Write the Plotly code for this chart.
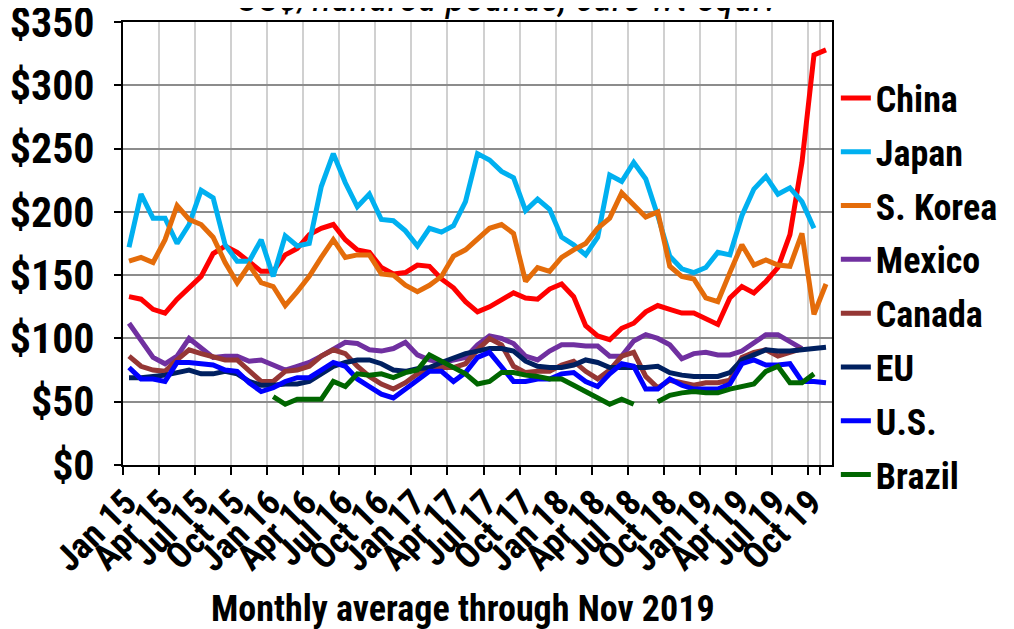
import plotly.graph_objects as go

months = ["Jan 15","Feb 15","Mar 15","Apr 15","May 15","Jun 15","Jul 15","Aug 15","Sep 15","Oct 15","Nov 15","Dec 15",
          "Jan 16","Feb 16","Mar 16","Apr 16","May 16","Jun 16","Jul 16","Aug 16","Sep 16","Oct 16","Nov 16","Dec 16",
          "Jan 17","Feb 17","Mar 17","Apr 17","May 17","Jun 17","Jul 17","Aug 17","Sep 17","Oct 17","Nov 17","Dec 17",
          "Jan 18","Feb 18","Mar 18","Apr 18","May 18","Jun 18","Jul 18","Aug 18","Sep 18","Oct 18","Nov 18","Dec 18",
          "Jan 19","Feb 19","Mar 19","Apr 19","May 19","Jun 19","Jul 19","Aug 19","Sep 19","Oct 19","Nov 19"]
tick_labels = ["Jan 15","Apr 15","Jul 15","Oct 15","Jan 16","Apr 16","Jul 16","Oct 16","Jan 17","Apr 17",
               "Jul 17","Oct 17","Jan 18","Apr 18","Jul 18","Oct 18","Jan 19","Apr 19","Jul 19","Oct 19"]

china = [133,131,123,120,131,140,149,167,173,168,160,153,
         153,166,171,182,187,190,178,170,168,156,151,152,
         158,157,147,140,129,121,125,130,136,132,131,139,
         143,133,110,102,99,108,112,121,126,123,120,120,
         116,111,132,141,136,145,156,182,239,324,328]
japan = [172,214,195,195,175,190,217,211,174,161,161,178,
         149,181,173,175,220,246,223,204,214,194,193,185,
         173,187,184,189,208,246,241,232,227,201,210,202,
         180,174,166,180,229,224,239,226,197,165,155,152,
         156,168,166,197,218,228,214,219,208,187,None]
korea = [161,164,160,178,205,194,190,180,160,144,158,144,
         141,126,137,149,164,178,164,166,166,151,150,142,
         137,142,149,165,170,179,187,190,183,145,156,153,
         164,170,175,187,195,215,206,196,200,157,149,147,
         132,129,152,174,158,162,158,157,183,119,143]
mexico = [112,99,85,80,86,100,93,85,86,86,82,83,
          79,75,78,81,86,92,97,96,91,90,92,97,
          87,83,81,83,85,95,102,100,96,86,83,90,
          95,95,94,94,86,86,98,103,100,95,84,88,
          89,87,87,90,96,103,103,97,92,None,None]
canada = [86,78,75,74,83,91,88,86,83,83,74,66,
          66,74,75,78,86,91,88,78,70,64,60,65,
          72,75,77,77,80,91,100,95,78,73,74,74,
          79,82,74,68,75,86,89,70,61,67,65,63,
          65,65,67,85,89,91,86,89,92,None,None]
eu = [69,69,70,71,73,75,72,72,74,72,66,63,
      63,64,64,66,72,78,81,83,83,80,75,74,
      76,77,81,85,88,90,92,92,90,82,78,77,
      77,79,83,81,77,77,77,77,78,73,71,70,
      70,70,73,83,87,91,90,90,91,92,93]
us = [77,68,68,66,81,81,80,79,75,74,65,58,
      61,66,69,69,75,81,78,68,62,56,53,60,
      68,74,74,66,73,85,89,77,66,66,68,68,
      72,73,66,62,72,80,78,60,60,68,63,60,
      60,60,64,80,83,79,79,80,66,66,65]
brazil = [None,None,None,None,None,None,None,None,None,None,None,None,
          54,48,52,52,52,66,62,72,71,72,69,73,
          75,87,82,77,72,64,66,73,73,71,70,68,
          68,63,58,52,48,52,48,None,50,55,57,58,
          57,57,60,62,64,74,78,65,65,72,None]

series = [("China", china, "#FF0000"), ("Japan", japan, "#00B0F0"), ("S. Korea", korea, "#E46C0A"),
          ("Mexico", mexico, "#7030A0"), ("Canada", canada, "#953735"), ("EU", eu, "#002060"),
          ("U.S.", us, "#0000FF"), ("Brazil", brazil, "#006600")]

FONT = "Roboto Condensed, Roboto, sans-serif"

fig = go.Figure()
for name, vals, col in series:
    fig.add_trace(go.Scatter(x=months, y=vals, name=name, mode="lines", legendgroup=name,
                             line=dict(color=col, width=5), connectgaps=False))

fig.update_layout(
    width=1006, height=621,
    margin=dict(l=115, r=181, t=14, b=164),
    paper_bgcolor="white", plot_bgcolor="white",
    font=dict(family=FONT, color="black"),
    showlegend=True,
    legend=dict(x=1.004, y=0.896, xanchor="left", yanchor="top",
                traceorder="grouped", tracegroupgap=4, maxheight=560,
                font=dict(size=36, family=FONT, weight="bold"),
                itemwidth=30, bgcolor="rgba(0,0,0,0)"),
    xaxis=dict(type="category", range=[-0.5, 58.5], tickmode="array", tickvals=tick_labels,
               ticktext=tick_labels, tickangle=-45, tickson="boundaries", automargin=False,
               ticks="outside", ticklen=8, tickwidth=2, tickcolor="black", ticklabelshift=-3,
               showgrid=True, gridcolor="#D0D0D0", gridwidth=2,
               showline=True, linecolor="black", linewidth=2, mirror=True,
               tickfont=dict(size=36, family=FONT, weight="bold")),
    yaxis=dict(range=[0, 350], dtick=50, tickprefix="$", ticks="outside", ticklen=7, tickwidth=2,
               tickcolor="black", showgrid=True, gridcolor="#8C8C8C", gridwidth=2, automargin=False,
               showline=True, linecolor="black", linewidth=2, mirror=True, zeroline=False,
               ticklabeloverflow="allow", ticklabelstandoff=11,
               tickfont=dict(size=42, family=FONT, weight="bold")),
    annotations=[
        dict(text="US$/hundred pounds, carc wt equiv", xref="paper", yref="paper", x=0.544, y=1.056,
             xanchor="center", yanchor="middle", showarrow=False,
             font=dict(size=40, family=FONT, style="italic")),
        dict(text="Monthly average through Nov 2019", xref="paper", yref="paper", x=0.48, y=-0.326,
             xanchor="center", yanchor="middle", showarrow=False,
             font=dict(size=36, family=FONT, weight="bold")),
    ],
)

fig.write_html("out.html")
